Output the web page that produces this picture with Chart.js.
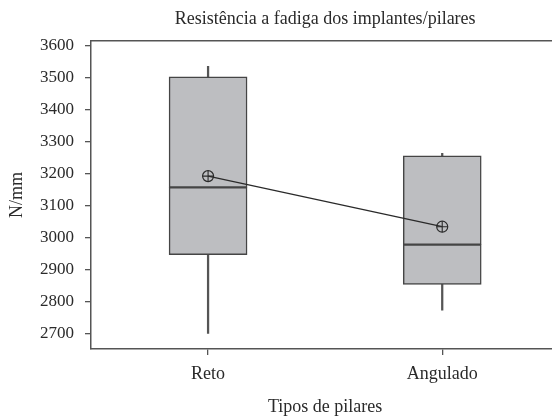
<!DOCTYPE html>
<html>
<head>
<meta charset="utf-8">
<script src="https://cdn.jsdelivr.net/npm/chart.js@4/dist/chart.umd.min.js"></script>
<style>
  html, body { margin: 0; padding: 0; background: #fff; overflow: hidden; width: 552px; height: 419px; }
  #wrap { width: 566px; height: 419px; position: relative; }
  canvas { display: block; }
</style>
</head>
<body>
<div id="wrap"><canvas id="c" width="566" height="419"></canvas></div>
<script>
const categories = ['Reto', 'Angulado'];
const whiskerMin = [2700, 2772];
const q1Values = [2946, 2853];
const medianValues = [3156, 2977];
const q3Values = [3501, 3254];
const whiskerMax = [3534, 3262];
const meanValues = [3191, 3033];
const yTickValues = [2700, 2800, 2900, 3000, 3100, 3200, 3300, 3400, 3500, 3600];
const titleText = 'Resistência a fadiga dos implantes/pilares';
const xTitle = 'Tipos de pilares';
const yTitle = 'N/mm';

const FONT = "'Liberation Serif', 'Times New Roman', serif";
const TEXT = '#2a2a2a';
const AXIS = '#555555';
const BOXFILL = '#bdbec1';
const BOXLINE = '#454545';

const pair = (a, b) => a.map((v, i) => [v, b[i]]);

new Chart(document.getElementById('c'), {
  data: {
    labels: categories,
    datasets: [
      {
        type: 'line', label: 'mean', data: meanValues, order: 0,
        borderColor: '#2a2a2a', borderWidth: 1.3,
        pointStyle: 'circle', pointRadius: 5.5, pointBorderWidth: 1.2,
        pointBackgroundColor: 'rgba(0,0,0,0)', pointBorderColor: '#2a2a2a'
      },
      {
        type: 'line', label: 'meanCross', data: meanValues, order: 0, showLine: false,
        pointStyle: 'cross', pointRadius: 5.5, pointBorderWidth: 1.1,
        borderColor: '#2a2a2a', pointBorderColor: '#2a2a2a'
      },
      {
        type: 'bar', label: 'boxUpper', data: pair(medianValues, q3Values), order: 1,
        grouped: false, barThickness: 78, backgroundColor: BOXFILL,
        borderColor: BOXLINE, borderWidth: 1.5, borderSkipped: false
      },
      {
        type: 'bar', label: 'boxLower', data: pair(q1Values, medianValues), order: 1,
        grouped: false, barThickness: 78, backgroundColor: BOXFILL,
        borderColor: BOXLINE, borderWidth: 1.5, borderSkipped: false
      },
      {
        type: 'bar', label: 'whisker', data: pair(whiskerMin, whiskerMax), order: 2,
        grouped: false, barThickness: 1.6, backgroundColor: AXIS, borderWidth: 0
      }
    ]
  },
  options: {
    responsive: false,
    animation: false,
    devicePixelRatio: 1,
    layout: { padding: { left: 0, right: 2, top: 0, bottom: 0 } },
    plugins: { legend: { display: false }, tooltip: { enabled: false }, title: { display: false } },
    scales: {
      x: {
        type: 'category', position: 'bottom', offset: true,
        grid: { display: true, offset: false, drawOnChartArea: false, drawTicks: true, tickLength: 6, color: AXIS, lineWidth: 1.3 },
        border: { display: true, color: AXIS, width: 1.5 },
        ticks: { font: { family: FONT, size: 18 }, color: TEXT, padding: 8 },
        title: { display: true, text: xTitle, font: { family: FONT, size: 18 }, color: TEXT, padding: { top: 0, bottom: 1 } },
        afterFit(s) { s.height = 70; }
      },
      xTop: {
        type: 'category', position: 'top', offset: true,
        grid: { display: false },
        border: { display: true, color: AXIS, width: 1.5 },
        ticks: { display: false },
        title: { display: true, text: titleText, font: { family: FONT, size: 18 }, color: TEXT, padding: { top: 8, bottom: 0 } },
        afterFit(s) { s.height = 41; }
      },
      y: {
        type: 'linear', position: 'left', min: 2651, max: 3613,
        afterBuildTicks(s) { s.ticks = yTickValues.map(v => ({ value: v })); },
        grid: { display: true, drawOnChartArea: false, drawTicks: true, tickLength: 6, color: AXIS, lineWidth: 1.3 },
        border: { display: true, color: AXIS, width: 1.5 },
        ticks: { font: { family: FONT, size: 17 }, color: TEXT, padding: 11, callback: v => String(v) },
        title: { display: true, text: yTitle, font: { family: FONT, size: 18 }, color: TEXT, padding: { top: 6, bottom: 0 } },
        afterFit(s) { s.width = 91; }
      }
    }
  }
});
</script>
</body>
</html>
